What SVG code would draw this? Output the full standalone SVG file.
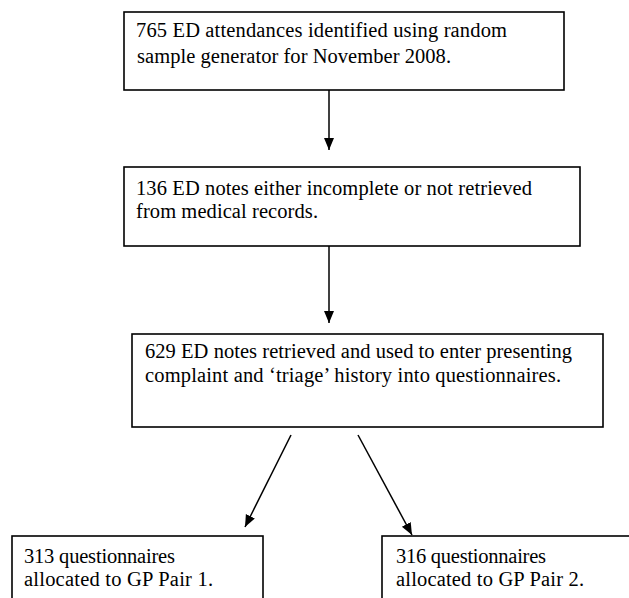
<svg xmlns="http://www.w3.org/2000/svg" width="629" height="598" viewBox="0 0 629 598">
<defs>
<style>
.box{fill:#fff;stroke:#000;stroke-width:1.6}
.t{font-family:"Liberation Serif","Times New Roman","DejaVu Serif",serif;font-size:20.5px;fill:#000}
.c{stroke:#000;stroke-width:1.5;fill:none}
</style>
<marker id="ah" markerUnits="userSpaceOnUse" markerWidth="12" markerHeight="12" viewBox="0 0 12 12" refX="12" refY="6" orient="auto">
<path d="M0,1 L12,6 L0,11 Z" fill="#000"/>
</marker>
</defs>
<rect width="629" height="598" fill="#fff"/>
<g id="n1">
<rect class="box" x="124" y="12" width="440" height="78"/>
<text class="t" x="136" y="37" textLength="371" lengthAdjust="spacing">765 ED attendances identified using random</text>
<text class="t" x="137" y="63" textLength="314" lengthAdjust="spacing">sample generator for November 2008.</text>
</g>
<g id="n2">
<rect class="box" x="124" y="167" width="456" height="79"/>
<text class="t" x="136" y="195" textLength="396" lengthAdjust="spacing">136 ED notes either incomplete or not retrieved</text>
<text class="t" x="136" y="218" textLength="182" lengthAdjust="spacing">from medical records.</text>
</g>
<g id="n3">
<rect class="box" x="132" y="334" width="471" height="93"/>
<text class="t" x="145" y="358" textLength="427" lengthAdjust="spacing">629 ED notes retrieved and used to enter presenting</text>
<text class="t" x="145" y="382" textLength="416" lengthAdjust="spacing">complaint and ‘triage’ history into questionnaires.</text>
</g>
<g id="n4">
<rect class="box" x="12" y="536" width="251" height="80"/>
<text class="t" x="24" y="563" textLength="151" lengthAdjust="spacing">313 questionnaires</text>
<text class="t" x="24" y="586" textLength="189" lengthAdjust="spacing">allocated to GP Pair 1.</text>
</g>
<g id="n5">
<rect class="box" x="382" y="536" width="260" height="80"/>
<text class="t" x="396" y="563" textLength="150" lengthAdjust="spacing">316 questionnaires</text>
<text class="t" x="396" y="586" textLength="188" lengthAdjust="spacing">allocated to GP Pair 2.</text>
</g>
<g id="connectors">
<line class="c" x1="329" y1="90" x2="329" y2="150" marker-end="url(#ah)"/>
<line class="c" x1="329" y1="246" x2="329" y2="323" marker-end="url(#ah)"/>
<line class="c" x1="291" y1="435" x2="245" y2="527" marker-end="url(#ah)"/>
<line class="c" x1="358" y1="435" x2="412" y2="535" marker-end="url(#ah)"/>
</g>
</svg>
